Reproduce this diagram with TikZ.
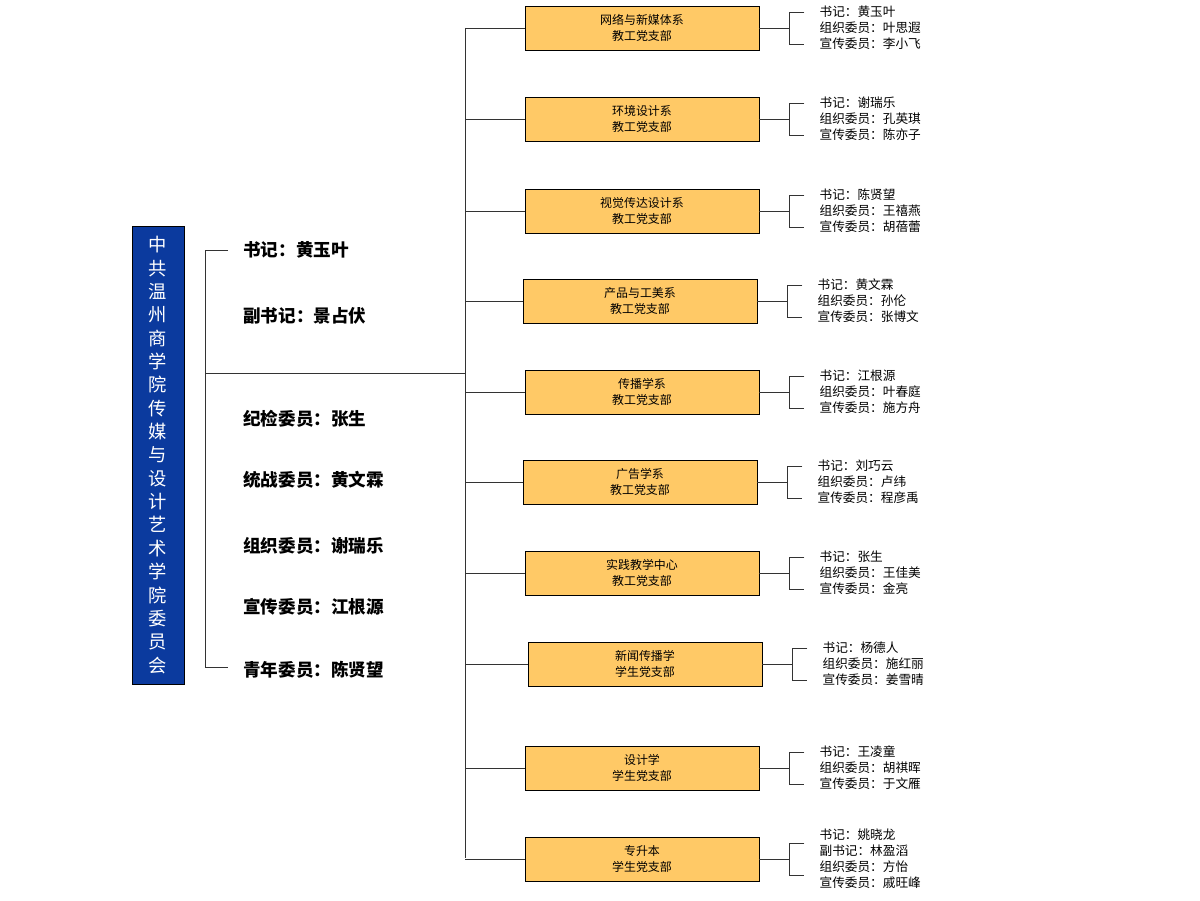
\documentclass[tikz,border=0pt]{standalone}
\usepackage{fontspec}
\setmainfont{Noto Sans CJK SC}
\usetikzlibrary{positioning,calc}
\definecolor{deepblue}{HTML}{0B3A9E}
\definecolor{boxgold}{HTML}{FFC966}
\tikzset{
  branch/.style={draw=black, fill=boxgold, minimum width=5.85cm, minimum height=1.1cm, align=center, font=\fontsize{8.5}{11}\selectfont, inner sep=1pt},
  member/.style={anchor=west, align=left, font=\fontsize{9}{11.3}\selectfont, inner sep=0pt},
  leader/.style={anchor=west, font=\bfseries\fontsize{12.5}{14}\selectfont, inner sep=0pt},
  wire/.style={draw=black!80, line width=0.6pt}
}
\begin{document}
\begin{tikzpicture}[x=0.025cm, y=-0.025cm]
\useasboundingbox (0,0) rectangle (1200,900);
% committee
\node[draw=black, fill=deepblue, text=white, minimum width=1.3cm, minimum height=11.45cm, align=center,
  font=\fontsize{13}{16.6}\selectfont, inner sep=0pt] (cttee) at (158,455)
  {中\\共\\温\\州\\商\\学\\院\\传\\媒\\与\\设\\计\\艺\\术\\学\\院\\委\\员\\会};
\coordinate (lt) at (205,250);
\coordinate (lb) at (205,667);
\coordinate (hub) at (205,373);
\coordinate (trunk) at (465,373);
\draw[wire] ($(lt)+(23,0)$) -- (lt) -- (lb) -- ++(23,0);
\draw[wire] (hub) -- (trunk);
\node[leader] (m1) at (243,250) {书记：黄玉叶};
\node[leader] (m2) at (243,316) {副书记：景占伏};
\node[leader] (m3) at (243,419) {纪检委员：张生};
\node[leader] (m4) at (243,480) {统战委员：黄文霖};
\node[leader] (m5) at (243,546) {组织委员：谢瑞乐};
\node[leader] (m6) at (243,607) {宣传委员：江根源};
\node[leader] (m7) at (243,670) {青年委员：陈贤望};
\coordinate (ttop) at (465,28);
\coordinate (tbot) at (465,858);
\draw[wire] (ttop) -- (tbot);
% branches
\foreach \i/\x/\y/\name/\kind/\who in {
  1/642/28/网络与新媒体系/教工/{书记：黄玉叶\\组织委员：叶思遐\\宣传委员：李小飞},
  2/642/119/环境设计系/教工/{书记：谢瑞乐\\组织委员：孔英琪\\宣传委员：陈亦子},
  3/642/211/视觉传达设计系/教工/{书记：陈贤望\\组织委员：王禧燕\\宣传委员：胡蓓蕾},
  4/640/301/产品与工美系/教工/{书记：黄文霖\\组织委员：孙伦\\宣传委员：张博文},
  5/642/392/传播学系/教工/{书记：江根源\\组织委员：叶春庭\\宣传委员：施方舟},
  6/640/482/广告学系/教工/{书记：刘巧云\\组织委员：卢纬\\宣传委员：程彦禹},
  7/642/573/实践教学中心/教工/{书记：张生\\组织委员：王佳美\\宣传委员：金亮},
  8/645/664/新闻传播学/学生/{书记：杨德人\\组织委员：施红丽\\宣传委员：姜雪晴},
  9/642/768/设计学/学生/{书记：王凌童\\组织委员：胡祺晖\\宣传委员：于文雁},
  10/642/859/专升本/学生/{书记：姚晓龙\\副书记：林盈滔\\组织委员：方怡\\宣传委员：戚旺峰}}{
  \node[branch] (b\i) at (\x,\y) {\name\\\kind 党支部};
  \draw[wire] (465,\y) -- (b\i.west);
  \coordinate (k\i) at ($(b\i.east)+(30,0)$);
  \draw[wire] (b\i.east) -- (k\i);
  \draw[wire] ($(k\i)+(15,-16)$) -- ($(k\i)+(0,-16)$) -- ($(k\i)+(0,16)$) -- ($(k\i)+(15,16)$);
  \node[member] (p\i) at ($(k\i)+(30,0)$) {\who};
}
\end{tikzpicture}
\end{document}
